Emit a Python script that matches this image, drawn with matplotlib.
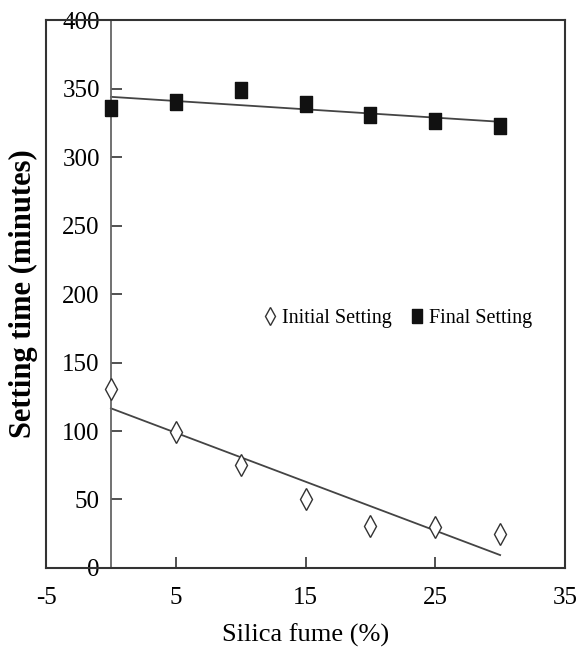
import matplotlib

matplotlib.use("Agg")
import matplotlib.pyplot as plt  # noqa: E402
import numpy as np  # noqa: E402

# silica fume replacement (%)
silica = [0, 5, 10, 15, 20, 25, 30]
# setting times (minutes)
initial = [131, 99, 75, 50, 31, 30, 25]
final = [336, 340, 349, 339, 331, 326, 323]

x_ticks = [-5, 5, 15, 25, 35]
y_ticks = [0, 50, 100, 150, 200, 250, 300, 350, 400]

plt.rcParams["font.family"] = ["Liberation Serif", "DejaVu Serif"]
plt.rcParams["axes.unicode_minus"] = False

# the original markers are a bit taller than wide
tall_square = [(-0.36, -0.5), (0.36, -0.5), (0.36, 0.5), (-0.36, 0.5), (-0.36, -0.5)]

fig = plt.figure(figsize=(5.79, 6.48), dpi=100)
ax = fig.add_axes([0.0795, 0.1235, 0.8963, 0.8455])

# linear trend lines over the measured range
xs = np.array(silica, dtype=float)
for vals in (initial, final):
    k, b = np.polyfit(xs, vals, 1)
    ax.plot([xs.min(), xs.max()], [k * xs.min() + b, k * xs.max() + b],
            color="#444444", lw=1.3, zorder=2)

ax.plot(silica, initial, linestyle="none", marker="d", markersize=11,
        markerfacecolor="white", markeredgecolor="#333333", markeredgewidth=1.0,
        label="Initial Setting", zorder=3)
ax.plot(silica, final, linestyle="none", marker=tall_square, markersize=12,
        color="#111111", label="Final Setting", zorder=3)

ax.set_xlim(-5, 35)
ax.set_ylim(0, 400)
ax.set_xticks(x_ticks)
ax.set_yticks(y_ticks)

# y axis sits at x = 0 inside the frame
ax.spines["left"].set_position(("data", 0))
ax.spines["left"].set_color("#666666")
ax.spines["left"].set_linewidth(1.3)
for side in ("top", "right", "bottom"):
    ax.spines[side].set_color("#333333")
    ax.spines[side].set_linewidth(1.5)
ax.axvline(-5, color="#333333", lw=1.5, clip_on=False)

ax.tick_params(axis="both", direction="in", length=8, width=1.2,
               color="#333333", labelsize=18)
ax.tick_params(axis="x", pad=14)
ax.tick_params(axis="y", pad=8)

ax.set_xlabel("Silica fume (%)", fontsize=19, labelpad=10)
ax.set_ylabel("Setting time (minutes)", fontsize=22, fontweight="bold")
ax.yaxis.set_label_coords(-0.016, 0.5)

ax.legend(loc="center", bbox_to_anchor=(0.68, 0.456), ncol=2, frameon=False,
          fontsize=14.5, markerscale=0.8, handlelength=0.5, handletextpad=0.35,
          columnspacing=1.0)

fig.savefig("out.png", dpi=100)
